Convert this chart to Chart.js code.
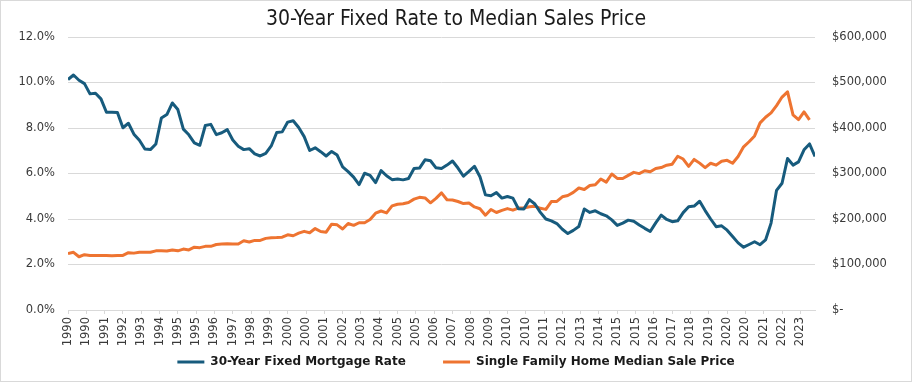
<!DOCTYPE html>
<html>
<head>
<meta charset="utf-8">
<script src="https://cdn.jsdelivr.net/npm/chart.js@4"></script>
<style>
  body { margin: 0; background: #fff; }
  #wrap { width: 912px; height: 382px; box-sizing: border-box; border: 1px solid #d9d9d9; }
</style>
</head>
<body>
<div id="wrap"><canvas id="rateChart" width="910" height="380"></canvas></div>
<script>
// quarterly, 1990 Q1 .. 2024 Q1 (rate) / 2023 Q4 (price)
const rate = [
  10.13, 10.33, 10.10, 9.95,
  9.50, 9.53, 9.28, 8.69,
  8.69, 8.68, 8.01, 8.21,
  7.73, 7.46, 7.08, 7.05,
  7.30, 8.44, 8.59, 9.10,
  8.81, 7.95, 7.70, 7.35,
  7.24, 8.11, 8.16, 7.71,
  7.79, 7.93, 7.47, 7.20,
  7.05, 7.09, 6.86, 6.77,
  6.88, 7.21, 7.80, 7.83,
  8.26, 8.32, 8.02, 7.62,
  7.01, 7.13, 6.96, 6.77,
  6.97, 6.81, 6.29, 6.08,
  5.84, 5.51, 6.01, 5.92,
  5.60, 6.13, 5.90, 5.73,
  5.76, 5.72, 5.78, 6.22,
  6.24, 6.60, 6.56, 6.25,
  6.22, 6.37, 6.55, 6.24,
  5.88, 6.09, 6.32, 5.86,
  5.06, 5.02, 5.16, 4.92,
  4.99, 4.92, 4.45, 4.44,
  4.85, 4.66, 4.29, 4.00,
  3.92, 3.80, 3.55, 3.36,
  3.50, 3.67, 4.44, 4.29,
  4.36, 4.23, 4.14, 3.96,
  3.72, 3.82, 3.95, 3.90,
  3.74, 3.59, 3.45, 3.83,
  4.17, 3.98, 3.88, 3.92,
  4.28, 4.54, 4.57, 4.78,
  4.37, 4.00, 3.66, 3.70,
  3.51, 3.23, 2.95, 2.76,
  2.88, 3.00, 2.87, 3.08,
  3.82, 5.26, 5.57, 6.66,
  6.37, 6.51, 7.04, 7.30,
  6.75
];

const price = [
  123900, 126800, 117000, 121500,
  120000, 119900, 120000, 120000,
  119500, 120000, 120000, 126000,
  125000, 127000, 127000, 127000,
  130000, 130000, 129700, 132000,
  130000, 133900, 132000, 138000,
  137000, 139900, 140000, 144000,
  145000, 145800, 145000, 145000,
  152200, 149500, 153000, 153000,
  157400, 158700, 159100, 160000,
  165300, 163200, 168800, 172900,
  169800, 179000, 172500, 171100,
  188700, 187200, 178100, 190100,
  186000, 191800, 191900, 198800,
  212700, 217600, 213500, 228800,
  232500, 233700, 236400, 243600,
  247700, 246300, 235600, 245400,
  257400, 242200, 241800, 238400,
  233900, 235300, 226500, 222500,
  208400, 220900, 214300, 219000,
  222900, 219500, 224100, 224300,
  226900, 228100, 223500, 221100,
  238400, 238700, 248800, 251700,
  258400, 268100, 264800, 273600,
  275200, 288000, 281000, 298900,
  289200, 289100, 295800, 302500,
  299800, 306000, 303800, 310900,
  313100, 318200, 320500, 337900,
  331800, 315600, 330900, 322800,
  313000, 322500, 318400, 327100,
  329000, 322600, 337500, 358700,
  369800, 382600, 411200, 423600,
  433100, 449300, 468000, 479500,
  429000, 418500, 435400, 417700
];

// x axis: months since Jan 1990, a label every 10 months
const tickLabels = [
  '1990','1990','1991','1992','1993','1994','1995','1995','1996','1997',
  '1998','1999','2000','2000','2001','2002','2003','2004','2005','2005',
  '2006','2007','2008','2009','2010','2010','2011','2012','2013','2014',
  '2015','2015','2016','2017','2018','2019','2020','2020','2021','2022','2023'
];

const toPoints = arr => arr.map((v, i) => ({ x: i * 3, y: v }));

const tickFont = { family: 'DejaVu Sans', size: 11.5 };

new Chart(document.getElementById('rateChart'), {
  type: 'line',
  data: {
    datasets: [
      {
        label: '30-Year Fixed Mortgage Rate',
        data: toPoints(rate),
        borderColor: '#175b7d',
        backgroundColor: '#175b7d',
        borderWidth: 3,
        pointRadius: 0,
        borderJoinStyle: 'round',
        yAxisID: 'y'
      },
      {
        label: 'Single Family Home Median Sale Price',
        data: toPoints(price),
        borderColor: '#ee7431',
        backgroundColor: '#ee7431',
        borderWidth: 3,
        pointRadius: 0,
        borderJoinStyle: 'round',
        yAxisID: 'y1'
      }
    ]
  },
  options: {
    responsive: false,
    animation: false,
    layout: { padding: { bottom: 3 } },
    plugins: {
      tooltip: { enabled: false },
      title: {
        display: true,
        text: '30-Year Fixed Rate to Median Sales Price',
        color: '#1a1a1a',
        font: { family: 'DejaVu Sans Condensed', size: 21, weight: 'normal' },
        padding: { top: 6, bottom: 4.8 }
      },
      legend: {
        position: 'bottom',
        labels: {
          usePointStyle: true,
          pointStyle: 'line',
          pointStyleWidth: 27,
          padding: 8,
          color: '#1a1a1a',
          font: { family: 'DejaVu Sans', size: 12, weight: 'bold' },
          // wider gap between the two entries
          generateLabels: chart => {
            const items = Chart.defaults.plugins.legend.labels.generateLabels(chart);
            items[0].text += '       ';
            return items;
          }
        }
      }
    },
    scales: {
      x: {
        type: 'linear',
        min: 0,
        max: 408,
        grid: { drawOnChartArea: false, tickLength: 4, color: '#d9d9d9' },
        border: { color: '#d9d9d9', width: 1 },
        ticks: {
          stepSize: 10,
          includeBounds: false,
          autoSkip: false,
          maxTicksLimit: 60,
          minRotation: 90,
          maxRotation: 90,
          padding: 3,
          color: '#3a3a3a',
          font: tickFont,
          callback: v => tickLabels[v / 10]
        },
        afterFit: s => { s.height = 38; }
      },
      y: {
        position: 'left',
        min: 0,
        max: 12,
        grid: { color: '#d9d9d9', drawTicks: false },
        border: { display: false },
        ticks: {
          stepSize: 2,
          padding: 13,
          color: '#3a3a3a',
          font: tickFont,
          callback: v => v.toFixed(1) + '%'
        },
        afterFit: s => { s.width = 67; }
      },
      y1: {
        position: 'right',
        min: 0,
        max: 600000,
        grid: { display: false, drawTicks: false },
        border: { display: false },
        ticks: {
          stepSize: 100000,
          padding: 17,
          color: '#3a3a3a',
          font: tickFont,
          callback: v => v === 0 ? '$-' : '$' + v.toLocaleString('en-US')
        },
        afterFit: s => { s.width = 96; }
      }
    }
  }
});
</script>
</body>
</html>
